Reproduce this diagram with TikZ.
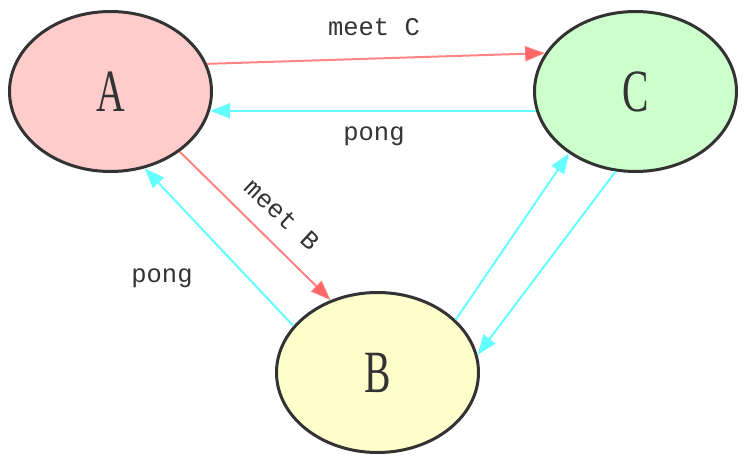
\documentclass[tikz,border=0pt]{standalone}
\usepackage{fontspec}
\setmainfont{Liberation Serif}
\newfontfamily\nodefont[FakeStretch=0.66]{Liberation Serif}
\newfontfamily\labelfont{Liberation Mono}
\usetikzlibrary{shapes.geometric,arrows.meta}
\definecolor{bord}{HTML}{333333}
\definecolor{redl}{HTML}{FF6666}
\definecolor{cyanl}{HTML}{66FFFF}
\definecolor{fa}{HTML}{FFCCCC}
\definecolor{fb}{HTML}{FFFFCC}
\definecolor{fc}{HTML}{CCFFCC}
\tikzset{
  st/.style={ellipse, draw=bord, line width=3pt, minimum width=202pt, minimum height=160pt, inner sep=0pt, text=bord, font=\nodefont\fontsize{60}{60}\selectfont},
  redarrow/.style={draw=redl, draw opacity=0.8, line width=2pt, -{Triangle[length=20pt,width=15pt,fill=redl]}},
  cyanarrow/.style={draw=cyanl, line width=2pt, -{Triangle[length=20pt,width=15pt,fill=cyanl]}},
  lbl/.style={text=bord, font=\labelfont\fontsize{25.5}{25.5}\selectfont, inner sep=0pt}
}
\begin{document}
\begin{tikzpicture}[x=1pt,y=-1pt]
\useasboundingbox (0,0) rectangle (747,461);
\node[st, fill=fa] (A) at (110.5,91.5) {A};
\node[st, fill=fc] (C) at (635.5,91.5) {C};
\node[st, fill=fb] (B) at (377.5,372.5) {B};
\draw[redarrow] (A.16.5) -- (C.157.5);
\draw[cyanarrow] (C.-169.2) -- (A.-11.1);
\draw[redarrow] (A.-41.2) -- (B.123.6);
\draw[cyanarrow] (B.151) -- (A.-66.4);
\draw[cyanarrow] (B.34.8) -- (C.-137.1);
\draw[cyanarrow] (C.-104) -- (B.10.9);
\node[lbl] (l1) at (374,27) {meet C};
\node[lbl] (l2) at (374,136) {pong};
\node[lbl, rotate=-43] (l3) at (282,215) {meet B};
\node[lbl] (l4) at (162,278) {pong};
\end{tikzpicture}
\end{document}
